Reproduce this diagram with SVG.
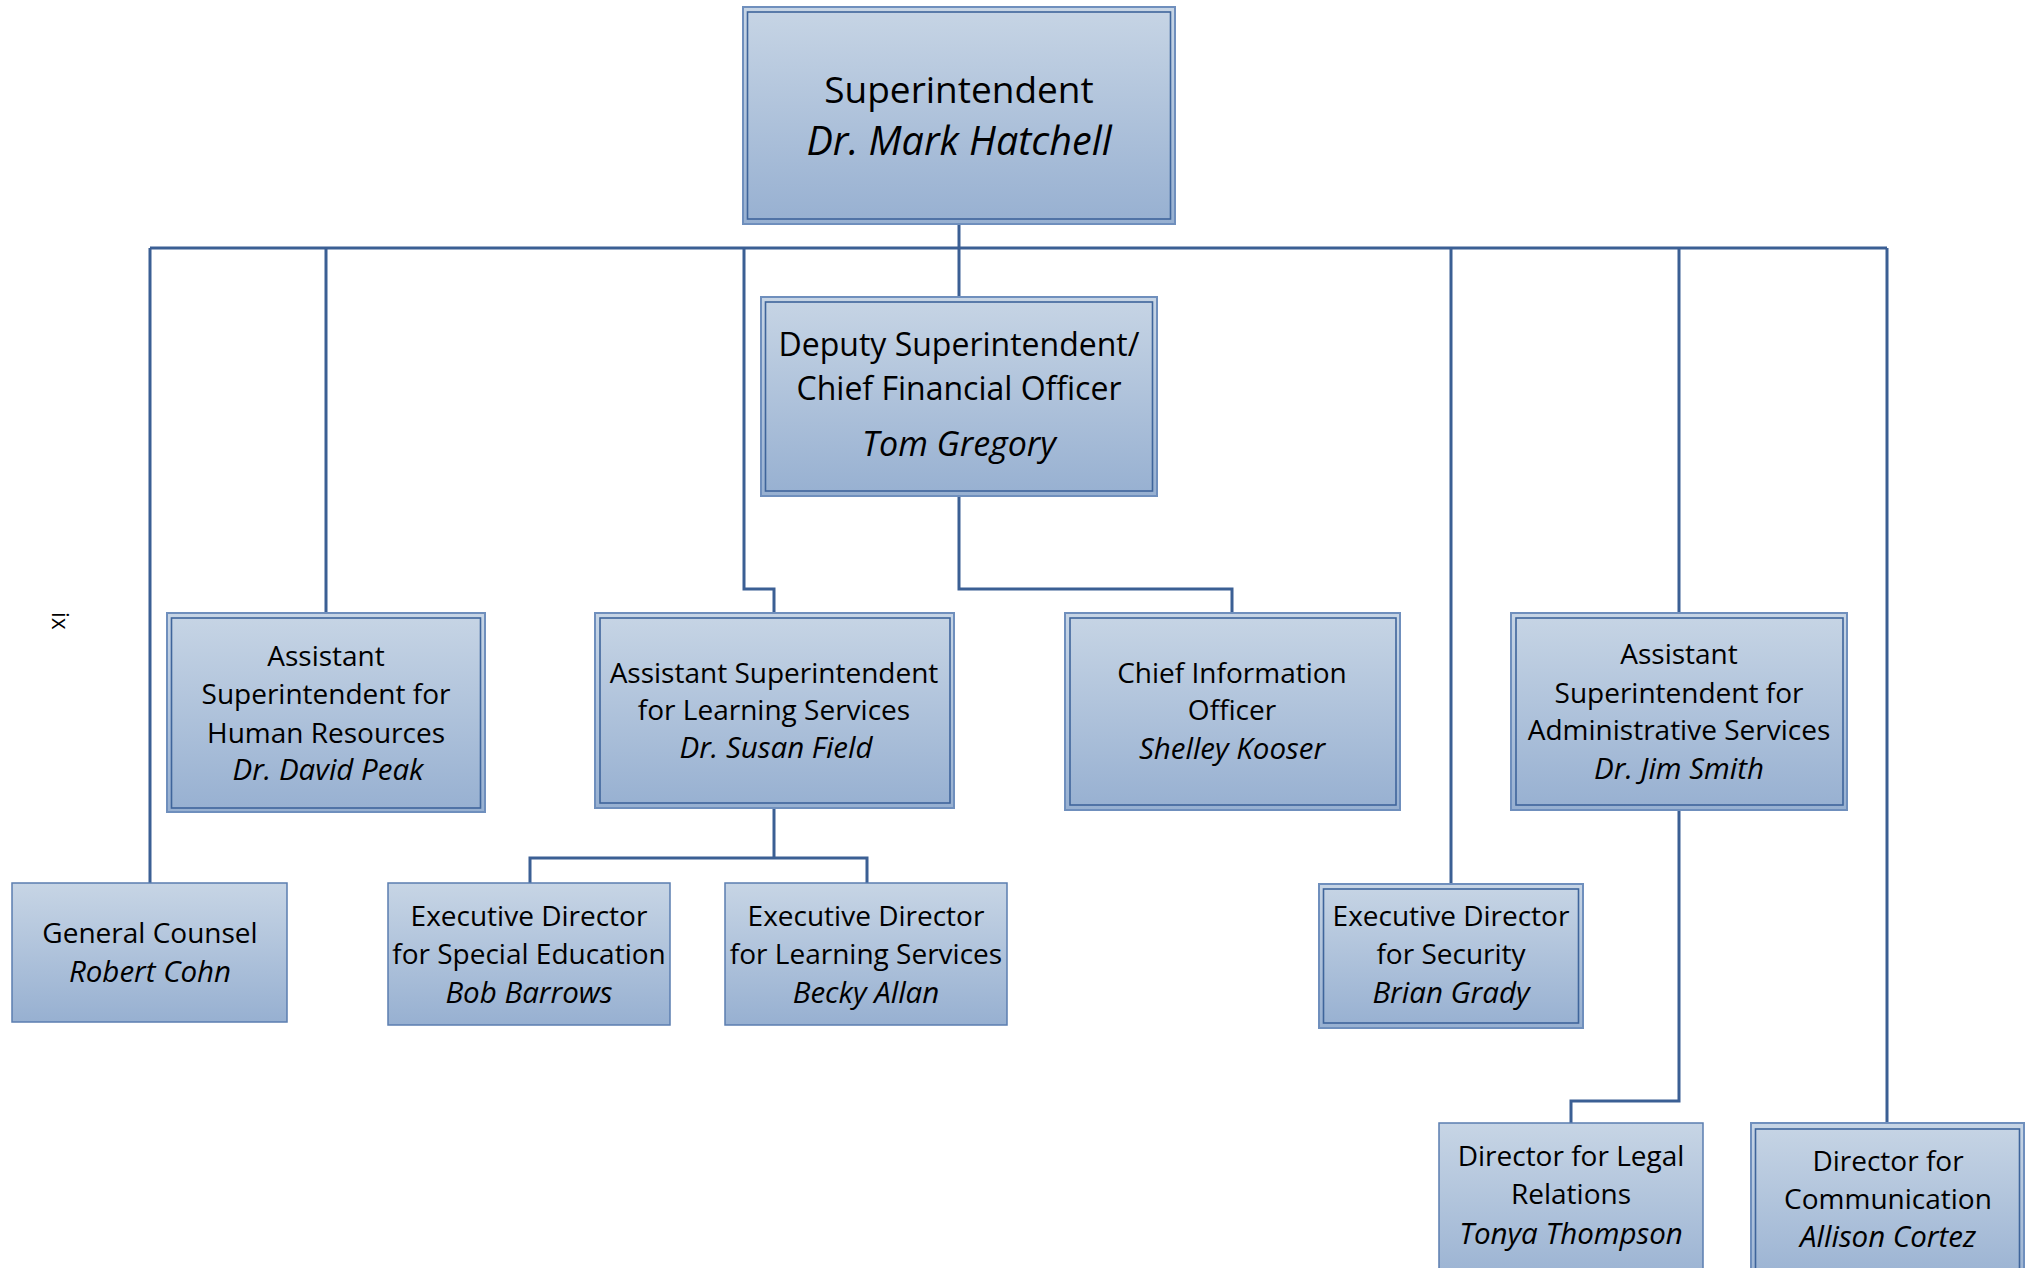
<svg xmlns="http://www.w3.org/2000/svg" width="2030" height="1268" viewBox="0 0 2030 1268">
<defs>
<linearGradient id="g" x1="0" y1="0" x2="0" y2="1">
<stop offset="0" stop-color="#c7d5e5"/>
<stop offset="1" stop-color="#97b0d1"/>
</linearGradient>
</defs>
<style>
.box{fill:url(#g);stroke:#6f8fbd;stroke-width:2}
.sbox{fill:url(#g);stroke:#5b7eb0;stroke-width:1.5}
.inner{fill:none;stroke:#3f659b;stroke-width:1.6}
.con{fill:none;stroke:#3b5f94;stroke-width:3}
text{font-family:"Open Sans","Liberation Sans",sans-serif;fill:#000;text-anchor:middle;font-size:28px}
.it{font-style:italic;font-size:29.5px}
.big{font-size:37px}
.big.it{font-size:39.5px}
.mid{font-size:32px}
.mid.it{font-size:34px}
.pg{text-anchor:start;font-size:23px}
</style>
<rect width="2030" height="1268" fill="#fff"/>
<text class="pg" x="52" y="612" transform="rotate(90 52 612)">ix</text>
<g id="connectors">
<path class="con" d="M959,224V248"/>
<path class="con" d="M150,248H1887"/>
<path class="con" d="M150,248V883"/>
<path class="con" d="M326,248V613"/>
<path class="con" d="M744,248V589H774V613"/>
<path class="con" d="M959,248V297"/>
<path class="con" d="M959,496V589H1232V613"/>
<path class="con" d="M1451,248V884"/>
<path class="con" d="M1679,248V613"/>
<path class="con" d="M1887,248V1123"/>
<path class="con" d="M774,808V858"/>
<path class="con" d="M530,883V858H867V883"/>
<path class="con" d="M1679,810V1101H1571V1123"/>
</g>
<g id="superintendent">
<rect class="box" x="743" y="7" width="432" height="217"/>
<rect class="inner" x="747.5" y="12" width="423" height="207"/>
<text class="big" x="959" y="103">Superintendent</text>
<text class="big it" x="959" y="155">Dr. Mark Hatchell</text>
</g>
<g id="deputy">
<rect class="box" x="761" y="297" width="396" height="199"/>
<rect class="inner" x="765.5" y="302" width="387" height="189"/>
<text class="mid" x="959" y="356">Deputy Superintendent/</text>
<text class="mid" x="959" y="400">Chief Financial Officer</text>
<text class="mid it" x="959" y="456">Tom Gregory</text>
</g>
<g id="hr">
<rect class="box" x="167" y="613" width="318" height="199"/>
<rect class="inner" x="171.5" y="618" width="309" height="190"/>
<text x="326" y="666">Assistant</text>
<text x="326" y="704">Superintendent for</text>
<text x="326" y="743">Human Resources</text>
<text class="it" x="328" y="780">Dr. David Peak</text>
</g>
<g id="learning">
<rect class="box" x="595" y="613" width="359" height="195"/>
<rect class="inner" x="600" y="618" width="350" height="185"/>
<text x="774" y="683">Assistant Superintendent</text>
<text x="774" y="720">for Learning Services</text>
<text class="it" x="776" y="758">Dr. Susan Field</text>
</g>
<g id="cio">
<rect class="box" x="1065" y="613" width="335" height="197"/>
<rect class="inner" x="1070" y="618" width="326" height="187"/>
<text x="1232" y="683">Chief Information</text>
<text x="1232" y="720">Officer</text>
<text class="it" x="1232" y="759">Shelley Kooser</text>
</g>
<g id="admin">
<rect class="box" x="1511" y="613" width="336" height="197"/>
<rect class="inner" x="1516" y="618" width="327" height="187"/>
<text x="1679" y="664">Assistant</text>
<text x="1679" y="703">Superintendent for</text>
<text x="1679" y="740">Administrative Services</text>
<text class="it" x="1679" y="779">Dr. Jim Smith</text>
</g>
<g id="counsel">
<rect class="sbox" x="12" y="883" width="275" height="139"/>
<text x="150" y="943">General Counsel</text>
<text class="it" x="150" y="982">Robert Cohn</text>
</g>
<g id="special-ed">
<rect class="sbox" x="388" y="883" width="282" height="142"/>
<text x="529" y="926">Executive Director</text>
<text x="529" y="964">for Special Education</text>
<text class="it" x="529" y="1003">Bob Barrows</text>
</g>
<g id="ed-learning">
<rect class="sbox" x="725" y="883" width="282" height="142"/>
<text x="866" y="926">Executive Director</text>
<text x="866" y="964">for Learning Services</text>
<text class="it" x="866" y="1003">Becky Allan</text>
</g>
<g id="security">
<rect class="box" x="1319" y="884" width="264" height="144"/>
<rect class="inner" x="1323.5" y="889" width="255" height="134"/>
<text x="1451" y="926">Executive Director</text>
<text x="1451" y="964">for Security</text>
<text class="it" x="1451" y="1003">Brian Grady</text>
</g>
<g id="legal">
<rect class="sbox" x="1439" y="1123" width="264" height="170"/>
<text x="1571" y="1166">Director for Legal</text>
<text x="1571" y="1204">Relations</text>
<text class="it" x="1571" y="1244">Tonya Thompson</text>
</g>
<g id="communication">
<rect class="box" x="1751" y="1123" width="273" height="170"/>
<rect class="inner" x="1755.5" y="1129" width="264" height="160"/>
<text x="1888" y="1171">Director for</text>
<text x="1888" y="1209">Communication</text>
<text class="it" x="1888" y="1247">Allison Cortez</text>
</g>
</svg>
